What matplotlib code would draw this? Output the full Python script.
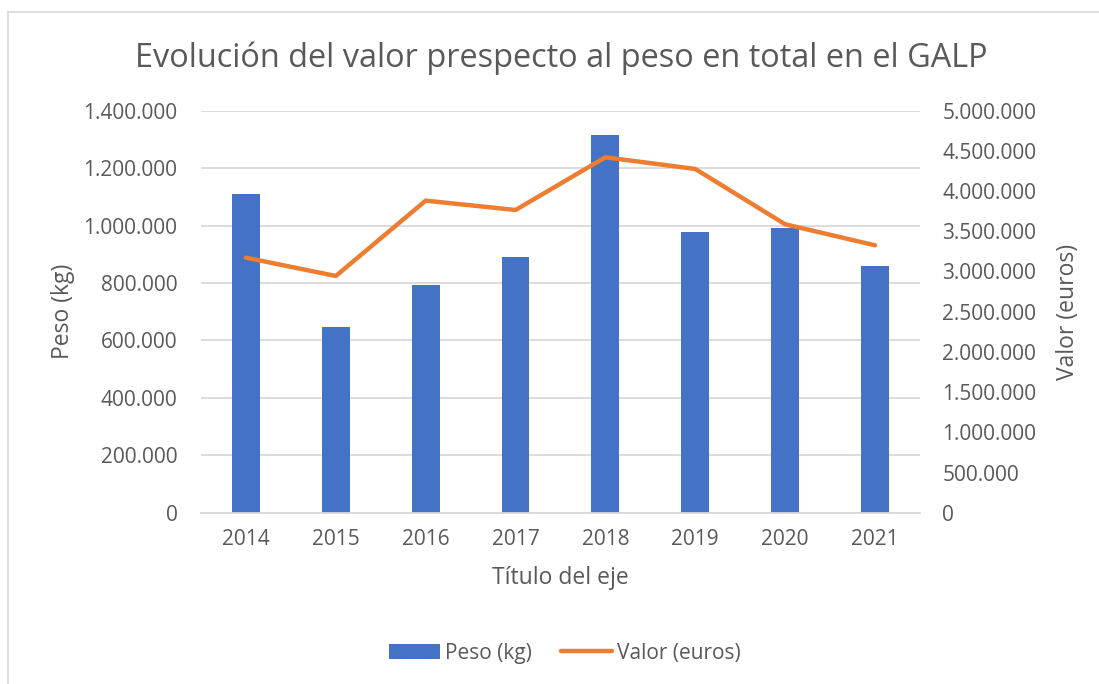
import matplotlib.pyplot as plt
from matplotlib.lines import Line2D
from matplotlib.patches import Patch
from matplotlib.ticker import FuncFormatter
import numpy as np

plt.rcParams['font.family'] = ['Open Sans', 'DejaVu Sans']

years = ['2014', '2015', '2016', '2017', '2018', '2019', '2020', '2021']
peso = [1109000, 645000, 794000, 889000, 1316000, 978000, 990000, 860000]
valor = [3172000, 2944000, 3881000, 3765000, 4420000, 4275000, 3587000, 3326000]

blue = '#4472C4'
orange = '#ED7D31'
grey_txt = '#595959'
grid_c = '#D9D9D9'


def miles(v, pos):
    return f'{int(round(v)):,}'.replace(',', '.')


fig = plt.figure(figsize=(10.99, 6.84), dpi=100)
ax = fig.add_axes([0.1829, 0.2504, 0.6542, 0.5878])
ax2 = ax.twinx()

x = np.arange(len(years))
ax.bar(x, peso, width=0.31, color=blue, zorder=2)
ax2.plot(x, valor, color=orange, lw=3.2, solid_capstyle='round',
         solid_joinstyle='round', zorder=3)

ax.set_xlim(-0.5, len(years) - 0.5)
ax.set_ylim(0, 1400000)
ax.set_yticks(np.arange(0, 1400001, 200000))
ax2.set_ylim(0, 5000000)
ax2.set_yticks(np.arange(0, 5000001, 500000))
ax.yaxis.set_major_formatter(FuncFormatter(miles))
ax2.yaxis.set_major_formatter(FuncFormatter(miles))
ax.set_xticks(x)
ax.set_xticklabels(years)

ax.grid(axis='y', color=grid_c, lw=1.3, zorder=0)
ax.set_axisbelow(True)
for a in (ax, ax2):
    for s in a.spines.values():
        s.set_visible(False)
ax.spines['bottom'].set_visible(True)
ax.spines['bottom'].set_color(grid_c)
ax.spines['bottom'].set_linewidth(1.3)

ax.tick_params(axis='y', length=0, pad=17, labelsize=15, labelcolor=grey_txt)
ax.tick_params(axis='x', length=0, pad=12, labelsize=15, labelcolor=grey_txt)
ax2.tick_params(axis='y', length=0, pad=16, labelsize=15, labelcolor=grey_txt)

ax.set_ylabel('Peso (kg)', fontsize=16.5, color=grey_txt, labelpad=6)
ax2.set_ylabel('Valor (euros)', fontsize=16.5, color=grey_txt, labelpad=14)
ax.set_xlabel('Título del eje', fontsize=16.5, color=grey_txt, labelpad=11)

fig.text(0.5105, 0.915, 'Evolución del valor prespecto al peso en total en el GALP',
         ha='center', va='center', fontsize=23.4, color=grey_txt)

handles = [Patch(facecolor=blue, edgecolor='none'),
           Line2D([0], [0], color=orange, lw=3.2, solid_capstyle='round')]
fig.legend(handles, ['Peso (kg)', 'Valor (euros)'], loc='center',
           bbox_to_anchor=(0.514, 0.045), ncol=2, frameon=False,
           fontsize=15, labelcolor=grey_txt, handlelength=2.45,
           handletextpad=0.25, columnspacing=1.4)

# chart area border (top and left visible)
fig.add_artist(Line2D([0.0073, 1.0], [0.9825, 0.9825], color=grid_c, lw=1.2,
                      transform=fig.transFigure))
fig.add_artist(Line2D([0.0073, 0.0073], [0.0, 0.9825], color=grid_c, lw=1.2,
                      transform=fig.transFigure))

fig.savefig('out.png', dpi=100)
